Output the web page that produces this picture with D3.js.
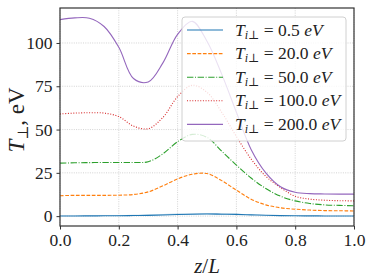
<!DOCTYPE html>
<html>
<head>
<meta charset="utf-8">
<script src="https://cdn.jsdelivr.net/npm/d3@7"></script>
<style>
  body { margin: 0; background: #fff; }
  svg { display: block; font-family: "Liberation Serif", "DejaVu Serif", serif; }
</style>
</head>
<body>
<div id="chart"></div>
<script>
'use strict';

// Data (z/L grid and T_perp per run)
const zGrid = [0, 0.05, 0.1, 0.15, 0.2, 0.25, 0.3, 0.35, 0.4, 0.45, 0.5,
               0.55, 0.6, 0.65, 0.7, 0.75, 0.8, 0.85, 0.9, 0.95, 1.0];
const t05   = [0.1, 0.1, 0.15, 0.2, 0.25, 0.35, 0.45, 0.65, 0.9, 1.1, 1.2,
               1.1, 1.0, 0.75, 0.5, 0.3, 0.2, 0.15, 0.1, 0.05, 0.05];
const t05hi = [0.1, 0.15, 0.3, 0.45, 0.6, 0.8, 1.0, 1.25, 1.5, 1.7, 1.8,
               1.65, 1.4, 1.05, 0.7, 0.4, 0.2, 0.15, 0.1, 0.05, 0.05];
const t20   = [11.8, 12, 12, 12, 12.1, 12.5, 14, 17.5, 21.5, 24.2, 24.6,
               20.5, 15, 9.8, 6.5, 4.8, 4, 3.5, 3.2, 3.1, 3];
const t50   = [30.6, 30.8, 30.9, 31, 31, 31, 31.4, 36, 43, 47.2, 45.5,
               37.5, 29.5, 22, 16, 11.5, 8.8, 7.3, 6.5, 6.2, 6];
const t100  = [59, 59.5, 59.7, 59.5, 57.5, 52, 50.5, 57, 69, 75.6, 71.5,
               60, 46, 33, 23, 16.5, 11.5, 9.8, 9.2, 8.9, 8.8];
const t200  = [113.5, 114.5, 114.3, 109.5, 97.5, 79.5, 77.5, 88.5, 105, 112.5, 101,
               82, 60, 38.5, 25, 17, 13.8, 13, 12.8, 12.7, 12.7];
const runLabels = ['0.5', '20.0', '50.0', '100.0', '200.0'];
const xTicks = [0, 0.2, 0.4, 0.6, 0.8, 1.0];
const yTicks = [0, 25, 50, 75, 100];

const width = 374, height = 280;
const margin = {left: 60, right: 20, top: 8, bottom: 54};

const series = [
  {values: t05,  color: '#1f77b4', dash: null},
  {values: t20,  color: '#ff7f0e', dash: '3.7,1.6'},
  {values: t50,  color: '#2ca02c', dash: '6.4,1.6,1,1.6'},
  {values: t100, color: '#d62728', dash: '1,1.65'},
  {values: t200, color: '#9467bd', dash: null}
];

const svg = d3.select('#chart').append('svg')
  .attr('width', width).attr('height', height);

const x = d3.scaleLinear().domain([0, 1])
  .range([margin.left, width - margin.right]);
const y = d3.scaleLinear().domain([-5.7, 120.2])
  .range([height - margin.bottom, margin.top]);

// Grid
svg.append('g').selectAll('line.gx').data(xTicks).join('line')
  .attr('x1', d => x(d)).attr('x2', d => x(d))
  .attr('y1', y.range()[1]).attr('y2', y.range()[0])
  .attr('stroke', '#c8c8c8').attr('stroke-width', 0.8).attr('stroke-dasharray', '1,1.3');
svg.append('g').selectAll('line.gy').data(yTicks).join('line')
  .attr('x1', x.range()[0]).attr('x2', x.range()[1])
  .attr('y1', d => y(d)).attr('y2', d => y(d))
  .attr('stroke', '#c8c8c8').attr('stroke-width', 0.8).attr('stroke-dasharray', '1,1.3');

// Band under the low-temperature run
const area = d3.area()
  .x((d, i) => x(zGrid[i]))
  .y0((d, i) => y(t05[i]))
  .y1(d => y(d))
  .curve(d3.curveCatmullRom);
svg.append('path').datum(t05hi)
  .attr('d', area).attr('fill', '#1f77b4').attr('opacity', 0.3);

// Lines
const line = d3.line()
  .x((d, i) => x(zGrid[i]))
  .y(d => y(d))
  .curve(d3.curveCatmullRom);

svg.append('g').selectAll('path').data(series).join('path')
  .attr('d', d => line(d.values))
  .attr('fill', 'none')
  .attr('stroke', d => d.color)
  .attr('stroke-width', 1.1)
  .attr('stroke-dasharray', d => d.dash);

// Axes
const xAxis = svg.append('g')
  .attr('transform', `translate(0,${y.range()[0]})`)
  .call(d3.axisBottom(x).tickValues(xTicks).tickFormat(d3.format('.1f')).tickSizeOuter(0).tickSize(3.5).tickPadding(4));
const yAxis = svg.append('g')
  .attr('transform', `translate(${x.range()[0]},0)`)
  .call(d3.axisLeft(y).tickValues(yTicks).tickSizeOuter(0).tickSize(3.5).tickPadding(4));
[xAxis, yAxis].forEach(a => {
  a.select('.domain').remove();
  a.selectAll('text').attr('font-size', 17.5).attr('fill', '#222')
    .attr('font-family', '"Liberation Serif", "DejaVu Serif", serif');
  a.selectAll('line').attr('stroke', '#333');
});

// Frame
svg.append('rect')
  .attr('x', x.range()[0]).attr('y', y.range()[1])
  .attr('width', x.range()[1] - x.range()[0])
  .attr('height', y.range()[0] - y.range()[1])
  .attr('fill', 'none').attr('stroke', '#333').attr('stroke-width', 1.2);

// Axis labels
svg.append('text')
  .attr('x', (x.range()[0] + x.range()[1]) / 2).attr('y', 273)
  .attr('text-anchor', 'middle').attr('font-size', 21).attr('fill', '#222')
  .call(t => {
    t.append('tspan').attr('font-style', 'italic').text('z');
    t.append('tspan').text('/');
    t.append('tspan').attr('font-style', 'italic').text('L');
  });

svg.append('text')
  .attr('transform', 'translate(24,120) rotate(-90)')
  .attr('text-anchor', 'middle').attr('font-size', 23).attr('fill', '#222')
  .call(t => {
    t.append('tspan').attr('font-style', 'italic').text('T');
    t.append('tspan').attr('font-size', 15).attr('dy', 4).text('⊥');
    t.append('tspan').attr('dy', -4).text(', eV');
  });

// Legend
const legend = svg.append('g');
legend.append('rect')
  .attr('x', 182).attr('y', 17).attr('width', 164).attr('height', 124).attr('rx', 3)
  .attr('fill', '#fff').attr('fill-opacity', 0.8)
  .attr('stroke', '#d0d0d0').attr('stroke-width', 1);

const rows = legend.selectAll('g.row').data(series).join('g')
  .attr('transform', (d, i) => `translate(0,${30 + i * 23.6})`);
rows.append('line')
  .attr('x1', 187).attr('x2', 223)
  .attr('stroke', d => d.color).attr('stroke-width', 1.1)
  .attr('stroke-dasharray', d => d.dash);
rows.append('text')
  .attr('x', 235).attr('y', 5.5).attr('font-size', 17.5).attr('fill', '#222')
  .each(function (d, i) {
    const t = d3.select(this);
    t.append('tspan').attr('font-style', 'italic').text('T');
    t.append('tspan').attr('font-style', 'italic').attr('font-size', 12).attr('dy', 3).text('i');
    t.append('tspan').attr('font-size', 12).text('⊥');
    t.append('tspan').attr('dy', -3).text(' = ' + runLabels[i] + ' ');
    t.append('tspan').attr('font-style', 'italic').text('eV');
  });
</script>
</body>
</html>
